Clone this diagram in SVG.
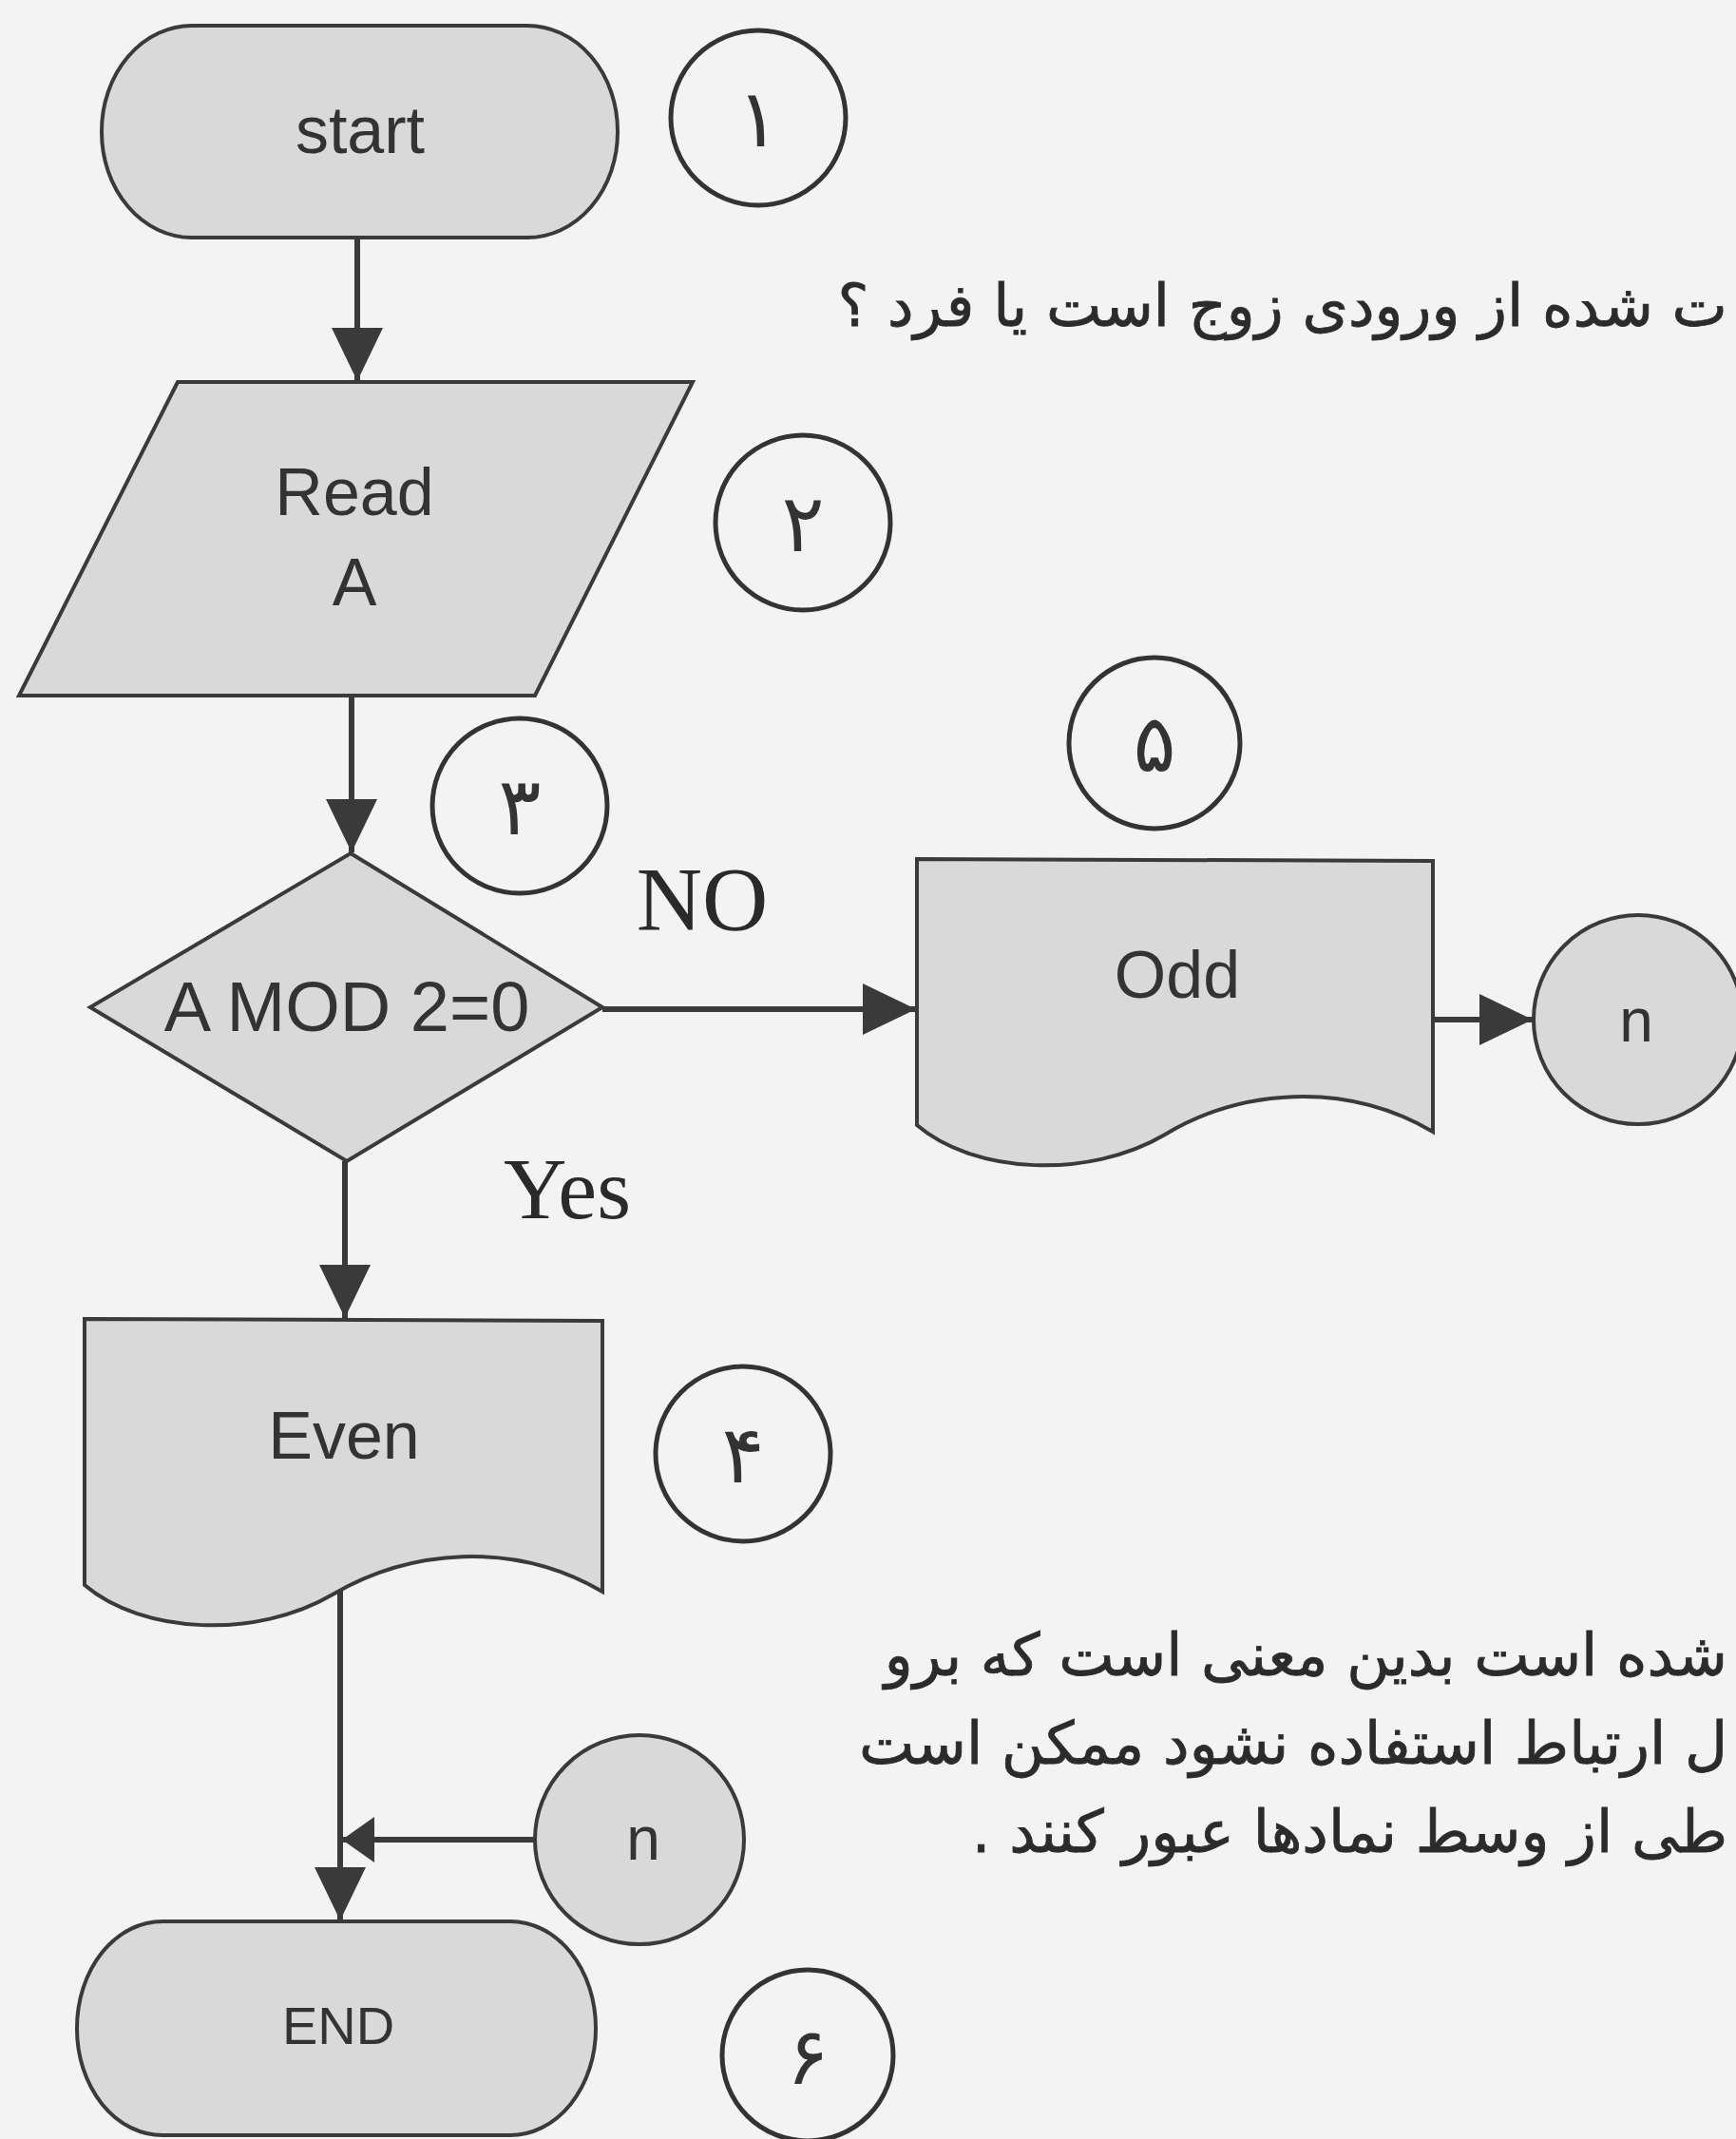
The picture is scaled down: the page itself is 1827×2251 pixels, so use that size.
<svg xmlns="http://www.w3.org/2000/svg" width="1827" height="2251" viewBox="0 0 1827 2251">
  <style>
    .shape { fill: #d9d9d9; stroke: #3a3a3a; stroke-width: 4; stroke-linejoin: miter; }
    .num { fill: none; stroke: #333333; stroke-width: 5; }
    .lbl { font-family: "Liberation Sans", Arial, sans-serif; fill: #333333; text-anchor: middle; }
    .ser { font-family: "Liberation Serif", "Times New Roman", serif; fill: #2a2a2a; text-anchor: middle; }
    .dig { font-family: "DejaVu Sans", sans-serif; fill: #333333; text-anchor: middle; font-size: 84px; }
    .fa { font-family: "DejaVu Sans", sans-serif; fill: #2b2b2b; font-size: 62px; stroke: #2b2b2b; stroke-width: 0.8; }
    .conn { fill: none; stroke: #3a3a3a; stroke-width: 6; }
  </style>
  <defs>
    <marker id="arrow" markerUnits="userSpaceOnUse" markerWidth="60" markerHeight="60" refX="56" refY="27" orient="auto">
      <path d="M0,0 L56,27 L0,54 Z" fill="#3a3a3a"/>
    </marker>
    <marker id="arrowSmall" markerUnits="userSpaceOnUse" markerWidth="40" markerHeight="52" refX="34" refY="24" orient="auto">
      <path d="M0,0 L34,24 L0,48 Z" fill="#3a3a3a"/>
    </marker>
  </defs>

  <rect x="0" y="0" width="1827" height="2251" fill="#f3f3f3"/>

  <g id="connectors">
    <line class="conn" x1="376" y1="250" x2="376" y2="401" marker-end="url(#arrow)"/>
    <line class="conn" x1="370" y1="732" x2="370" y2="897" marker-end="url(#arrow)"/>
    <line class="conn" x1="634" y1="1062" x2="964" y2="1062" marker-end="url(#arrow)"/>
    <line class="conn" x1="363" y1="1222" x2="363" y2="1387" marker-end="url(#arrow)"/>
    <line class="conn" x1="1508" y1="1073" x2="1613" y2="1073" marker-end="url(#arrow)"/>
    <line class="conn" x1="358" y1="1672" x2="358" y2="2021" marker-end="url(#arrow)"/>
    <line class="conn" x1="563" y1="1936" x2="360" y2="1936" marker-end="url(#arrowSmall)"/>
  </g>

  <g id="start">
    <rect class="shape" x="107" y="27" width="543" height="223" rx="95" ry="111"/>
    <text class="lbl" x="379" y="161" font-size="70">start</text>
  </g>
  <g id="step1">
    <circle class="num" cx="798" cy="124" r="92"/>
    <text class="dig" x="798" y="154">۱</text>
  </g>

  <g id="read">
    <polygon class="shape" points="187,402 729,402 563,732 20,732"/>
    <text class="lbl" x="373" y="542" font-size="70">Read</text>
    <text class="lbl" x="373" y="637" font-size="70">A</text>
  </g>
  <g id="step2">
    <circle class="num" cx="845" cy="550" r="92"/>
    <text class="dig" x="845" y="580">۲</text>
  </g>

  <g id="step3">
    <circle class="num" cx="547" cy="848" r="92"/>
    <text class="dig" x="547" y="878">۳</text>
  </g>

  <g id="decision">
    <polygon class="shape" points="369,898 634,1060 365,1222 95,1060"/>
    <text class="lbl" x="365" y="1085" font-size="74">A MOD 2=0</text>
  </g>
  <g id="label-no">
    <text class="ser" x="739" y="979" font-size="96">NO</text>
  </g>
  <g id="label-yes">
    <text class="ser" x="597" y="1282" font-size="92">Yes</text>
  </g>

  <g id="step5">
    <circle class="num" cx="1215" cy="782" r="90"/>
    <text class="dig" x="1215" y="812">۵</text>
  </g>

  <g id="odd">
    <path class="shape" d="M965,904 L1508,906 L1508,1191 C1414,1136 1304,1147 1226,1194 C1146,1241 1026,1236 965,1184 Z"/>
    <text class="lbl" x="1239" y="1050" font-size="70">Odd</text>
  </g>

  <g id="connector-n-out">
    <circle class="shape" cx="1724" cy="1073" r="110"/>
    <text class="lbl" x="1722" y="1096" font-size="64">n</text>
  </g>

  <g id="even">
    <path class="shape" d="M89,1388 L634,1390 L634,1675 C540,1620 430,1631 350,1678 C270,1725 150,1720 89,1668 Z"/>
    <text class="lbl" x="362" y="1535" font-size="70">Even</text>
  </g>
  <g id="step4">
    <circle class="num" cx="782" cy="1530" r="92"/>
    <text class="dig" x="782" y="1560">۴</text>
  </g>

  <g id="connector-n-in">
    <circle class="shape" cx="673" cy="1936" r="110"/>
    <text class="lbl" x="677" y="1957" font-size="64">n</text>
  </g>

  <g id="end">
    <rect class="shape" x="81" y="2022" width="546" height="225" rx="90" ry="112"/>
    <text class="lbl" x="356" y="2151" font-size="56">END</text>
  </g>
  <g id="step6">
    <circle class="num" cx="850" cy="2163" r="90"/>
    <text class="dig" x="850" y="2193">۶</text>
  </g>

  <g id="page-text">
    <text class="fa" x="1818" y="343" font-size="64" direction="rtl" text-anchor="start">ت شده از ورودی زوج است یا فرد ؟</text>
    <text class="fa" x="1818" y="1763" direction="rtl" text-anchor="start">شده است بدین معنی است که برو</text>
    <text class="fa" x="1818" y="1856" direction="rtl" text-anchor="start">ل ارتباط استفاده نشود ممکن است</text>
    <text class="fa" x="1818" y="1949" direction="rtl" text-anchor="start">طی از وسط نمادها عبور کنند .</text>
  </g>
</svg>
